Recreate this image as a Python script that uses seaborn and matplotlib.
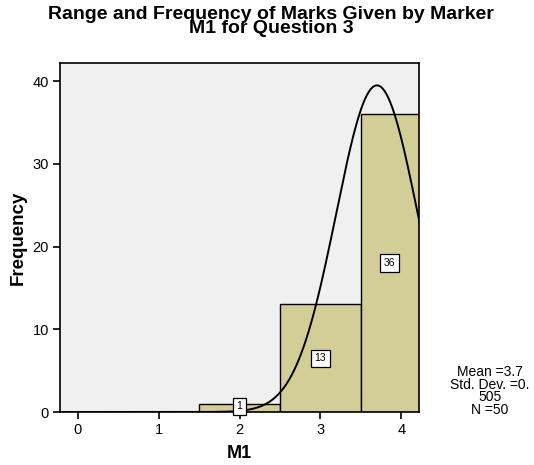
import numpy as np
import pandas as pd
import matplotlib
matplotlib.use("Agg")
import matplotlib.pyplot as plt
import seaborn as sns

# marks given by marker M1 and how often each was given
marks = [2, 3, 4]
counts = [1, 13, 36]
bin_edges = [1.5, 2.5, 3.5, 4.5]
x_ticks = [0, 1, 2, 3, 4]
y_ticks = [0, 10, 20, 30, 40]

df = pd.DataFrame({"M1": np.repeat(marks, counts)})
mean = df["M1"].mean()
sd = df["M1"].std()
n = len(df)

sns.set_style("white")
plt.rcParams["font.family"] = ["Liberation Sans", "DejaVu Sans"]
plt.rcParams["text.color"] = "black"
plt.rcParams["axes.labelcolor"] = "black"

fig = plt.figure(figsize=(5.34, 4.65), dpi=100)
ax = fig.add_axes([60 / 534, 1 - 412 / 465, 359 / 534, 349 / 465])
ax.set_facecolor("#F0F0F0")

sns.histplot(data=df, x="M1", bins=bin_edges, color="#D3CE97", alpha=1,
             edgecolor="black", linewidth=1, ax=ax)

xmax = 4.22
ax.set_xlim(-0.22, xmax)
ax.set_ylim(0, 42.2)

# fitted normal curve, scaled to counts (bin width 1)
xs = np.linspace(-0.3, 4.3, 400)
ys = n / (sd * np.sqrt(2 * np.pi)) * np.exp(-0.5 * ((xs - mean) / sd) ** 2)
ax.plot(xs, ys, color="black", linewidth=1.4)

# count labels, boxed, halfway up the visible part of each bar
for p in ax.patches:
    h = p.get_height()
    left = p.get_x()
    right = min(left + p.get_width(), xmax)
    ax.text((left + right) / 2, max(h / 2, 0.7), f"{int(h)}", ha="center", va="center",
            fontsize=7.5,
            bbox=dict(boxstyle="square,pad=0.35", fc="white", ec="black", lw=0.9))

ax.set_xticks(x_ticks)
ax.set_yticks(y_ticks)
ax.tick_params(axis="both", direction="out", length=5, width=1.2, labelsize=10.5,
               bottom=True, left=True, colors="black", pad=3)
for s in ax.spines.values():
    s.set_color("black")
    s.set_linewidth(1.2)

ax.set_xlabel("M1", fontsize=13, fontweight="bold", labelpad=6)
ax.set_ylabel("Frequency", fontsize=13.5, fontweight="bold", labelpad=4)

fig.text(0.508, 0.988, "Range and Frequency of Marks Given by Marker\nM1 for Question 3",
         ha="center", va="top", fontsize=14, fontweight="bold", linespacing=0.8)

fig.text(490 / 534, 1 - 391 / 465,
         f"Mean ={mean:.1f}\nStd. Dev. =0.\n{int(round(sd * 1000))}\nN ={n}",
         ha="center", va="center", fontsize=10, linespacing=0.85)

fig.savefig("out.png", dpi=100)
